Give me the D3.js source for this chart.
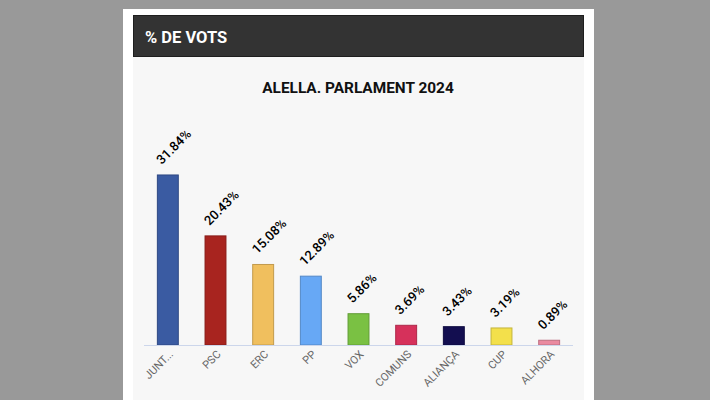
<!DOCTYPE html>
<html><head><meta charset="utf-8">
<script src="https://cdn.jsdelivr.net/npm/d3@7"></script>
<style>
html,body{margin:0;padding:0;background:#999999;}
svg{display:block;font-family:Roboto,"Noto Sans",sans-serif;}
</style></head>
<body>
<svg id="c" width="710" height="400"></svg>
<script>
const categories = ["JUNT...", "PSC", "ERC", "PP", "VOX", "COMUNS", "ALIANÇA", "CUP", "ALHORA"];
const values = [31.84, 20.43, 15.08, 12.89, 5.86, 3.69, 3.43, 3.19, 0.89];
const colors = ["#3a5ba2", "#a8241f", "#f0bf5e", "#67a8f5", "#7ac143", "#d6315b", "#130e50", "#f3e04b", "#ea8aa0"];
const headerText = "% DE VOTS";
const titleText = "ALELLA. PARLAMENT 2024";

const svg = d3.select("#c");
// card
svg.append("rect").attr("x",123).attr("y",9).attr("width",471).attr("height",400).attr("fill","#ffffff");
svg.append("rect").attr("x",133).attr("y",57).attr("width",451).attr("height",350).attr("fill","#f7f7f7");
svg.append("rect").attr("x",133.5).attr("y",15.5).attr("width",450).attr("height",41).attr("fill","#333333").attr("stroke","#1e1e1e");
svg.append("text").attr("x",145).attr("y",42.5).attr("fill","#ffffff").attr("font-size",16.5).attr("font-weight","bold").text(headerText);
svg.append("text").attr("x",358).attr("y",93).attr("text-anchor","middle").attr("fill","#111").attr("font-size",15.4).attr("font-weight","bold").text(titleText);

const x = d3.scaleBand().domain(categories).range([144,573]).paddingInner(0.54).paddingOuter(0.27);
const y = d3.scaleLinear().domain([0,40]).range([345,131.4]);

const g = svg.append("g");
g.selectAll("rect.bar").data(values).join("rect").attr("class","bar")
  .attr("x",(d,i)=>x(categories[i])+0.5).attr("width",x.bandwidth()-1)
  .attr("y",d=>y(d)).attr("height",d=>y(0)-y(d))
  .attr("fill",(d,i)=>colors[i])
  .attr("stroke",(d,i)=>d3.color(colors[i]).darker(0.6)).attr("stroke-width",1);

// axis
const ax = svg.append("g").attr("transform","translate(0,345)").call(d3.axisBottom(x).tickSize(0).tickPadding(0));
ax.select(".domain").attr("stroke","#ccd6eb").attr("d","M144,0.5H573");
ax.selectAll(".tick text").attr("fill","#666").attr("font-size",11).attr("font-family","Roboto,sans-serif")
  .attr("text-anchor","end").attr("dy",null).attr("y",0)
  .attr("transform","translate(6,10) rotate(-45)");

// labels
g.selectAll("text.lbl").data(values).join("text").attr("class","lbl")
  .attr("transform",(d,i)=>`translate(${x(categories[i])+x.bandwidth()/2-6},${y(d)-10}) rotate(-45)`)
  .attr("font-size",13).attr("font-weight",500).attr("fill","#000")
  .text(d=>d.toFixed(2)+"%");
</script>
</body></html>
